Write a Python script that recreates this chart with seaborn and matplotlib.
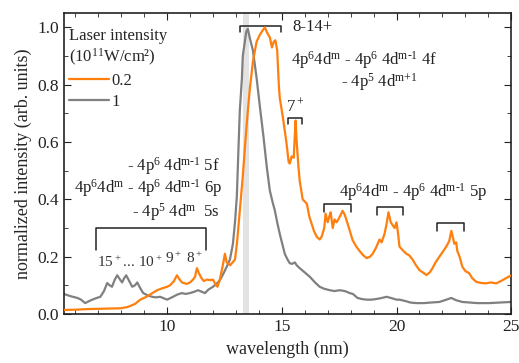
import numpy as np
import pandas as pd
import matplotlib
matplotlib.use("Agg")
import matplotlib.pyplot as plt
from matplotlib.ticker import MultipleLocator
import seaborn as sns

# =============================================================================
# Data
# =============================================================================

# 0.2 x 10^11 W/cm2 (orange)
wl_02 = [5.5, 6.0, 6.5, 7.0, 7.5, 8.0, 8.3, 8.6, 8.83, 9.1, 9.3, 9.57, 9.8, 10.0,
         10.13, 10.3, 10.43, 10.55, 10.65, 10.85, 11.0, 11.13, 11.22, 11.3, 11.4,
         11.5, 11.6, 11.74, 11.9, 12.0, 12.1, 12.2, 12.3, 12.43, 12.52, 12.6, 12.75,
         12.96, 13.05, 13.17, 13.3, 13.4, 13.5, 13.6, 13.74, 13.9, 14.05, 14.17,
         14.26, 14.37, 14.48, 14.57, 14.65, 14.72, 14.8, 14.87, 14.91, 15.04, 15.2,
         15.3, 15.35, 15.43, 15.52, 15.6, 15.65, 15.72, 15.78, 15.91, 16.09, 16.2,
         16.3, 16.4, 16.52, 16.65, 16.74, 16.85, 16.91, 17.0, 17.07, 17.13, 17.22,
         17.3, 17.39, 17.5, 17.65, 17.75, 17.87, 18.0, 18.09, 18.25, 18.39, 18.55,
         18.7, 18.85, 18.96, 19.1, 19.26, 19.35, 19.48, 19.58, 19.65, 19.75, 19.83,
         19.92, 20.0, 20.07, 20.13, 20.3, 20.43, 20.55, 20.7, 20.85, 21.0, 21.15,
         21.3, 21.45, 21.57, 21.7, 21.87, 22.0, 22.17, 22.3, 22.39, 22.45, 22.52,
         22.6, 22.65, 22.75, 22.87, 23.0, 23.17, 23.3, 23.48, 23.7, 23.9, 24.1,
         24.35, 24.55, 24.78, 25.0, 25.26]
int_02 = [0.014, 0.015, 0.017, 0.018, 0.019, 0.02, 0.025, 0.035, 0.05, 0.06, 0.07,
          0.083, 0.09, 0.095, 0.10, 0.115, 0.135, 0.12, 0.11, 0.105, 0.11, 0.12,
          0.13, 0.16, 0.14, 0.125, 0.115, 0.12, 0.118, 0.12, 0.105, 0.095, 0.12,
          0.17, 0.21, 0.18, 0.17, 0.19, 0.25, 0.36, 0.48, 0.59, 0.69, 0.78, 0.88,
          0.95, 0.975, 0.99, 1.0, 0.98, 0.965, 0.93, 0.95, 0.955, 0.92, 0.8, 0.755,
          0.69, 0.6, 0.53, 0.525, 0.55, 0.545, 0.675, 0.6, 0.52, 0.465, 0.40, 0.385,
          0.34, 0.315, 0.29, 0.27, 0.26, 0.27, 0.3, 0.35, 0.32, 0.34, 0.355, 0.30,
          0.33, 0.32, 0.335, 0.36, 0.345, 0.315, 0.28, 0.257, 0.235, 0.22, 0.205,
          0.195, 0.2, 0.21, 0.23, 0.26, 0.25, 0.28, 0.32, 0.355, 0.32, 0.31, 0.30,
          0.32, 0.28, 0.235, 0.22, 0.21, 0.205, 0.19, 0.17, 0.153, 0.145, 0.136,
          0.145, 0.16, 0.18, 0.2, 0.215, 0.235, 0.255, 0.29, 0.27, 0.245, 0.25,
          0.22, 0.2, 0.165, 0.15, 0.142, 0.125, 0.112, 0.108, 0.107, 0.11, 0.107,
          0.115, 0.125, 0.135, 0.142]

# 1 x 10^11 W/cm2 (gray)
wl_1 = [5.5, 5.8, 6.09, 6.25, 6.43, 6.6, 6.74, 6.9, 7.09, 7.25, 7.39, 7.5, 7.6,
        7.72, 7.83, 7.95, 8.04, 8.13, 8.22, 8.35, 8.48, 8.6, 8.7, 8.83, 8.96, 9.15,
        9.35, 9.5, 9.7, 9.85, 10.0, 10.13, 10.26, 10.45, 10.65, 10.8, 11.0, 11.2,
        11.35, 11.5, 11.65, 11.8, 12.0, 12.15, 12.3, 12.45, 12.6, 12.74, 12.87,
        12.96, 13.04, 13.1, 13.17, 13.26, 13.3, 13.39, 13.45, 13.52, 13.6, 13.74,
        13.9, 14.05, 14.2, 14.35, 14.48, 14.6, 14.7, 14.8, 14.91, 15.02, 15.13,
        15.25, 15.35, 15.45, 15.57, 15.65, 15.78, 16.0, 16.22, 16.45, 16.65, 16.85,
        17.09, 17.3, 17.52, 17.75, 17.96, 18.1, 18.3, 18.5, 18.7, 18.9, 19.1, 19.3,
        19.57, 19.8, 20.0, 20.13, 20.4, 20.6, 20.87, 21.2, 21.5, 21.87, 22.1, 22.39,
        22.6, 22.87, 23.2, 23.5, 24.04, 24.5, 25.0]
int_1 = [0.07, 0.062, 0.056, 0.05, 0.038, 0.045, 0.05, 0.055, 0.06, 0.08, 0.108,
         0.1, 0.095, 0.12, 0.135, 0.12, 0.11, 0.125, 0.135, 0.115, 0.095, 0.1, 0.11,
         0.09, 0.073, 0.065, 0.06, 0.058, 0.06, 0.055, 0.05, 0.055, 0.06, 0.068,
         0.073, 0.07, 0.073, 0.078, 0.083, 0.078, 0.073, 0.085, 0.095, 0.105, 0.118,
         0.14, 0.165, 0.19, 0.245, 0.32, 0.41, 0.55, 0.71, 0.82, 0.9, 0.95, 0.985,
         0.995, 0.965, 0.92, 0.825, 0.72, 0.62, 0.51, 0.43, 0.39, 0.36, 0.32, 0.28,
         0.245, 0.21, 0.19, 0.177, 0.175, 0.18, 0.17, 0.16, 0.145, 0.13, 0.11,
         0.095, 0.088, 0.083, 0.08, 0.083, 0.08, 0.073, 0.07, 0.056, 0.052, 0.05,
         0.05, 0.052, 0.055, 0.06, 0.055, 0.05, 0.05, 0.045, 0.04, 0.038, 0.038,
         0.04, 0.042, 0.048, 0.056, 0.048, 0.042, 0.04, 0.038, 0.038, 0.04, 0.042]

series_labels = ["0.2", "1"]
series_colors = {"0.2": "#ff7f0e", "1": "#808080"}

data = pd.concat([
    pd.DataFrame({"wavelength": wl_02, "intensity": int_02, "laser": "0.2"}),
    pd.DataFrame({"wavelength": wl_1, "intensity": int_1, "laser": "1"}),
])

# =============================================================================
# Plot
# =============================================================================

sns.set_style("ticks")
plt.rcParams["font.family"] = ["Liberation Serif", "DejaVu Serif"]
plt.rcParams["mathtext.fontset"] = "custom"
plt.rcParams["mathtext.rm"] = "Liberation Serif"
plt.rcParams["mathtext.default"] = "regular"

fig, ax = plt.subplots(figsize=(5.19, 3.63), dpi=100)
fig.subplots_adjust(left=0.123, right=0.985, top=0.964, bottom=0.135)

ax.axvspan(13.3, 13.55, color="#e3e3e3", lw=0, zorder=0)

sns.lineplot(data=data, x="wavelength", y="intensity", hue="laser",
             hue_order=series_labels, palette=series_colors, estimator=None,
             lw=1.6, ax=ax)
# orange on top of gray
ax.lines[0].set_zorder(3)
ax.lines[1].set_zorder(2)

ax.set_xlim(5.5, 25)
ax.set_ylim(0, 1.05)
ax.xaxis.set_major_locator(MultipleLocator(5))
ax.xaxis.set_minor_locator(MultipleLocator(1))
ax.yaxis.set_major_locator(MultipleLocator(0.2))
ax.yaxis.set_minor_locator(MultipleLocator(0.1))
ax.yaxis.set_major_formatter(matplotlib.ticker.FormatStrFormatter("%.1f"))
ax.tick_params(which="both", direction="in", top=True, right=True,
               labelsize=12.5, colors="#222222")
ax.tick_params(which="major", length=5)
ax.tick_params(which="minor", length=3)
ax.set_xlabel("wavelength (nm)", fontsize=13)
ax.set_ylabel("normalized intensity (arb. units)", fontsize=13)
for sp in ax.spines.values():
    sp.set_linewidth(1.2)
    sp.set_color("#222222")

leg = ax.legend(title="Laser intensity\n(10$^{11}$W/cm²)", loc="upper left",
                frameon=False, fontsize=12, title_fontsize=12,
                handlelength=2.4, handletextpad=0.1, borderaxespad=0.2,
                labelspacing=0.3, alignment="left",
                bbox_to_anchor=(-0.01, 0.985))

# bracket annotations
def bracket(x0, x1, y, drop):
    ax.plot([x0, x0, x1, x1], [y - drop, y, y, y - drop], color="#222222", lw=1.1)

txt = dict(fontsize=12, color="#222222")
bracket(13.2, 14.95, 1.005, 0.02)
ax.text(15.45, 1.0, "8-14+", va="center", **txt)
ax.text(15.4, 0.885, r"4p$^6$4d$^m$ - 4p$^6$ 4d$^{\text{m-1}}$ 4f", va="center", **txt)
ax.text(17.6, 0.81, r"- 4p$^5$ 4d$^{\text{m+1}}$", va="center", **txt)

bracket(15.26, 15.9, 0.685, 0.022)
ax.text(15.6, 0.725, "7$^+$", va="center", ha="center", **txt)

ax.text(12.3, 0.515, r"- 4p$^6$ 4d$^{\text{m-1}}$ 5f", va="center", ha="right", **txt)
ax.text(12.42, 0.44, r"4p$^6$4d$^m$ - 4p$^6$ 4d$^{\text{m-1}}$ 6p", va="center",
        ha="right", **txt)
ax.text(12.3, 0.355, "- 4p$^5$ 4d$^m$  5s", va="center", ha="right", **txt)
bracket(6.9, 11.7, 0.30, 0.075)
ax.text(6.95, 0.18, "15$^+$... 10$^+$", va="center", fontsize=11, color="#333333")
ax.text(10.3, 0.195, "9$^+$", va="center", ha="center", fontsize=11, color="#333333")
ax.text(11.2, 0.195, "8$^+$", va="center", ha="center", fontsize=11, color="#333333")

ax.text(17.5, 0.425, r"4p$^6$4d$^m$ - 4p$^6$ 4d$^{\text{m-1}}$ 5p", va="center", **txt)
bracket(16.83, 18.0, 0.383, 0.028)
bracket(19.17, 20.3, 0.372, 0.028)
bracket(21.78, 22.96, 0.317, 0.028)

plt.savefig("out.png", dpi=100)
